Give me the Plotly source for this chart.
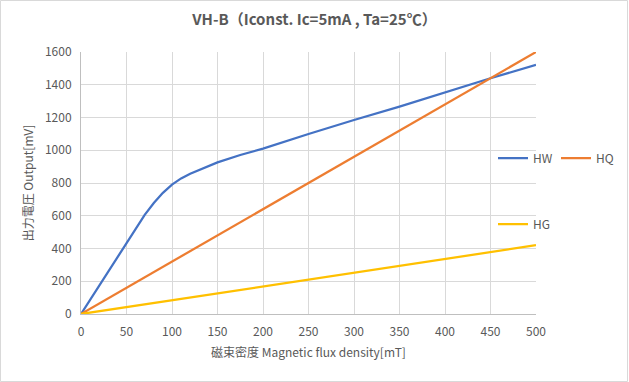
import plotly.graph_objects as go

# Data
hw_x = [0, 10, 20, 30, 40, 50, 60, 70, 80, 90, 100, 110, 120, 130, 140, 150, 175, 200, 250, 300, 350, 400, 450, 500]
hw_y = [0, 87, 174, 261, 348, 435, 520, 605, 678, 740, 790, 828, 857, 881, 905, 926, 971, 1010, 1099, 1185, 1266, 1354, 1440, 1521]
hq_x = [0, 100, 200, 300, 400, 500]
hq_y = [0, 320, 640, 960, 1280, 1600]
hg_x = [0, 100, 200, 300, 400, 500]
hg_y = [0, 84, 168, 252, 336, 420]

title_text = "VH-B（Iconst. Ic=5mA , Ta=25℃）"
x_title = "磁束密度 Magnetic flux density[mT]"
y_title = "出力電圧 Output[mV]"

FONT = "Noto Sans CJK JP"
GRAY = "#595959"

fig = go.Figure()
fig.add_trace(go.Scatter(x=hw_x, y=hw_y, mode="lines", name="HW",
                         line=dict(color="#4472C4", width=2.25), legend="legend"))
fig.add_trace(go.Scatter(x=hq_x, y=hq_y, mode="lines", name="HQ",
                         line=dict(color="#ED7D31", width=2.25), legend="legend"))
fig.add_trace(go.Scatter(x=hg_x, y=hg_y, mode="lines", name="HG",
                         line=dict(color="#FFC000", width=2.25), legend="legend2"))

W, H = 629, 382
ml, mr, mt, mb = 81, 93, 52, 68
pw = W - ml - mr
ph = H - mt - mb

fig.update_layout(
    width=W, height=H, autosize=False,
    margin=dict(l=ml, r=mr, t=mt, b=mb, autoexpand=False),
    paper_bgcolor="white", plot_bgcolor="white",
    font=dict(family=FONT, color=GRAY, size=12),
    title=dict(text="<b>" + title_text + "</b>", x=0.5, xanchor="center",
               y=1 - 20 / H, yanchor="middle",
               font=dict(family=FONT, size=15, color=GRAY)),
    xaxis=dict(range=[0, 500], tickvals=list(range(0, 501, 50)),
               showgrid=True, gridcolor="#d9d9d9", gridwidth=1,
               showline=True, linecolor="#bfbfbf", linewidth=1,
               zeroline=False, ticks="", ticklen=0, ticklabelstandoff=7,
               tickfont=dict(size=12, color=GRAY),
               title=dict(text=x_title, font=dict(size=12, color=GRAY), standoff=10)),
    yaxis=dict(range=[0, 1600], tickvals=list(range(0, 1601, 200)),
               showgrid=True, gridcolor="#d9d9d9", gridwidth=1,
               showline=True, linecolor="#bfbfbf", linewidth=1,
               zeroline=False, ticks="", ticklen=0, ticklabelstandoff=6,
               tickfont=dict(size=12, color=GRAY),
               title=dict(text=y_title, font=dict(size=12, color=GRAY), standoff=8)),
    legend=dict(orientation="h", x=(493 - ml) / pw, xanchor="left",
                y=(H - mb - 158) / ph, yanchor="middle",
                bgcolor="rgba(0,0,0,0)", font=dict(size=12, color=GRAY),
                entrywidth=18, entrywidthmode="pixels", itemwidth=30,
                tracegroupgap=0),
    legend2=dict(orientation="h", x=(493 - ml) / pw, xanchor="left",
                 y=(H - mb - 224) / ph, yanchor="middle",
                 bgcolor="rgba(0,0,0,0)", font=dict(size=12, color=GRAY),
                 itemwidth=30),
    shapes=[dict(type="rect", xref="paper", yref="paper",
                 x0=-ml / pw + 0.5 / pw, x1=1 + (mr - 1.5) / pw,
                 y0=-mb / ph + 0.5 / ph, y1=1 + (mt - 0.5) / ph,
                 line=dict(color="#d9d9d9", width=1), fillcolor="rgba(0,0,0,0)",
                 layer="below")],
)

post = "document.body.style.margin='0';document.body.style.overflow='hidden';"

fig.write_html("out.html", config={"responsive": False, "displayModeBar": False}, post_script=post)
